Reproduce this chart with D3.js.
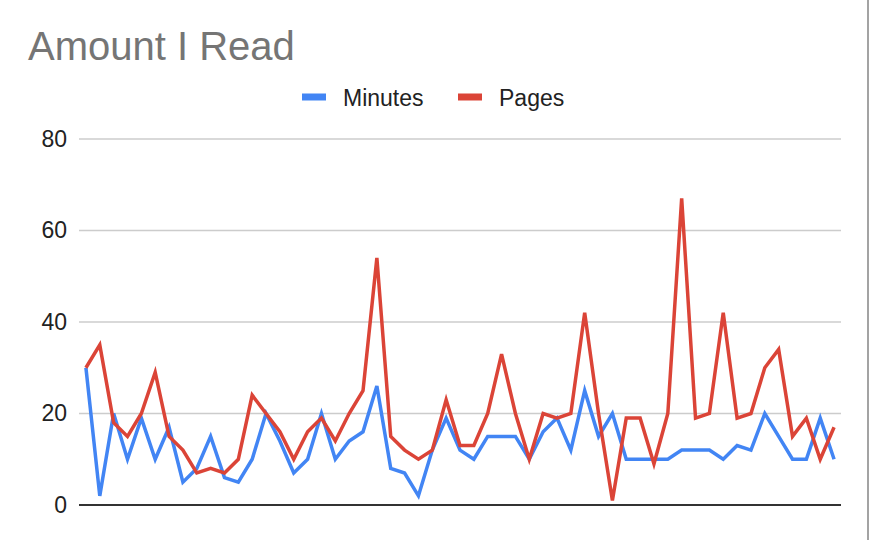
<!DOCTYPE html>
<html>
<head>
<meta charset="utf-8">
<script src="https://cdn.jsdelivr.net/npm/d3@7"></script>
<style>
  html, body { margin: 0; padding: 0; background: #fff; }
  svg { display: block; }
  text { font-family: "Liberation Sans", Arial, sans-serif; }
</style>
</head>
<body>
<svg id="chart" width="870" height="540"></svg>
<script>
const title = "Amount I Read";
const seriesNames = ["Minutes", "Pages"];
const seriesColors = ["#4285F4", "#DB4437"];
const days = [1,2,3,4,5,6,7,8,9,10,11,12,13,14,15,16,17,18,19,20,21,22,23,24,25,26,27,28,29,30,31,32,33,34,35,36,37,38,39,40,41,42,43,44,45,46,47,48,49,50,51,52,53,54,55];
const minutes = [30,2,20,10,19,10,17,5,8,15,6,5,10,20,14,7,10,20,10,14,16,26,8,7,2,12,19,12,10,15,15,15,10,16,19,12,25,15,20,10,10,10,10,12,12,12,10,13,12,20,15,10,10,19,10];
const pages   = [30,35,18,15,20,29,15,12,7,8,7,10,24,20,16,10,16,19,14,20,25,54,15,12,10,12,23,13,13,20,33,20,10,20,19,20,42,20,1,19,19,9,20,67,19,20,42,19,20,30,34,15,19,10,17];
const yTicks = [0, 20, 40, 60, 80];

(function () {
const svg = d3.select("#chart");
const plotLeft = 79, plotRight = 841, plotTop = 139, plotBottom = 505;

const x = d3.scalePoint().domain(days).range([plotLeft, plotRight]).padding(0.5);
const y = d3.scaleLinear().domain([0, 80]).range([plotBottom, plotTop]);

// right border
svg.append("line").attr("x1", 868).attr("x2", 868).attr("y1", 0).attr("y2", 540)
  .attr("stroke", "#a3a3a3").attr("stroke-width", 2);

// title
svg.append("text").attr("x", 28).attr("y", 60).text(title)
  .attr("font-size", 40).attr("fill", "#757575");

// legend
const legendX = [302, 458];
seriesNames.forEach((name, i) => {
  svg.append("rect").attr("x", legendX[i]).attr("y", 93.5).attr("width", 24).attr("height", 7)
    .attr("fill", seriesColors[i]);
  svg.append("text").attr("x", legendX[i] + 41).attr("y", 105.5).text(name)
    .attr("font-size", 23).attr("fill", "#222");
});

// gridlines
svg.append("g").selectAll("line").data(yTicks.filter(d => d > 0)).join("line")
  .attr("x1", plotLeft).attr("x2", plotRight)
  .attr("y1", d => y(d)).attr("y2", d => y(d))
  .attr("stroke", "#cccccc").attr("stroke-width", 1.5);

// y axis labels
const yAxis = svg.append("g").attr("transform", `translate(${plotLeft},0)`)
  .call(d3.axisLeft(y).tickValues(yTicks).tickSize(0).tickPadding(12).tickFormat(d3.format("d")));
yAxis.select(".domain").remove();
yAxis.selectAll("text").attr("font-size", 23).attr("fill", "#222")
  .attr("font-family", "'Liberation Sans', Arial, sans-serif");

// lines
const line = d3.line().x((d, i) => x(days[i])).y(d => y(d));
[minutes, pages].forEach((vals, i) => {
  svg.append("path").datum(vals).attr("d", line)
    .attr("fill", "none").attr("stroke", seriesColors[i]).attr("stroke-width", 3.5);
});

// baseline
svg.append("line").attr("x1", plotLeft).attr("x2", plotRight)
  .attr("y1", y(0)).attr("y2", y(0))
  .attr("stroke", "#333333").attr("stroke-width", 2);
})();
</script>
</body>
</html>
